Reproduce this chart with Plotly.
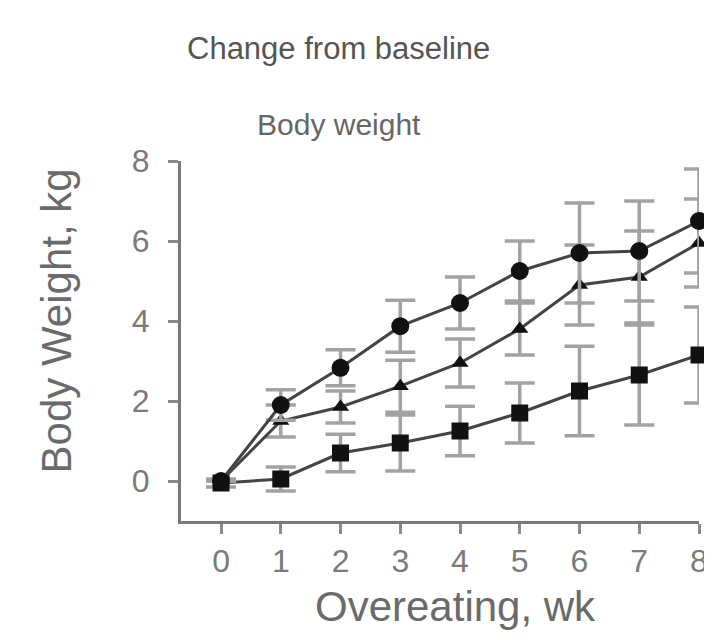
import plotly.graph_objects as go

weeks = [0, 1, 2, 3, 4, 5, 6, 7, 8]
circle_vals = [0.0, 1.9, 2.83, 3.87, 4.45, 5.25, 5.7, 5.75, 6.5]
circle_err = [0.0, 0.38, 0.45, 0.65, 0.65, 0.75, 1.25, 1.25, 1.3]
triangle_vals = [0.0, 1.5, 1.85, 2.37, 2.95, 3.8, 4.9, 5.1, 5.95]
triangle_err = [0.0, 0.4, 0.4, 0.65, 0.6, 0.65, 1.0, 1.15, 1.1]
square_vals = [-0.05, 0.05, 0.7, 0.95, 1.25, 1.7, 2.25, 2.65, 3.15]
square_err = [0.1, 0.3, 0.47, 0.7, 0.62, 0.75, 1.12, 1.25, 1.2]
y_ticks = [0, 2, 4, 6, 8]

FONT = "Liberation Sans, Arial, Helvetica, sans-serif"
ERR_COLOR = "#a2a2a2"
LINE_COLOR = "#444444"

fig = go.Figure()

series = [
    (square_vals, square_err, "square", 17),
    (triangle_vals, triangle_err, "triangle-up", 15),
    (circle_vals, circle_err, "circle", 18),
]
for vals, err, sym, size in series:
    fig.add_trace(go.Scatter(
        x=weeks, y=vals, mode="lines+markers",
        line=dict(color=LINE_COLOR, width=3),
        marker=dict(symbol=sym, size=size, color="#111111"),
        error_y=dict(type="data", array=err, visible=True, color=ERR_COLOR,
                     thickness=3.5, width=15),
        cliponaxis=False, showlegend=False,
    ))

axis_common = dict(
    showline=True, linecolor="#7a7a7a", linewidth=3,
    ticks="outside", ticklen=10, tickwidth=3, tickcolor="#8a8a8a",
    showgrid=False, zeroline=False,
    tickfont=dict(family=FONT, size=32, color="#7a7a7a"),
)

fig.update_layout(
    width=712, height=640,
    margin=dict(l=173, r=15, t=153, b=127),
    paper_bgcolor="white", plot_bgcolor="white",
    xaxis=dict(range=[-0.67, 8], tickvals=weeks, **axis_common),
    yaxis=dict(range=[-1, 8], tickvals=y_ticks, ticklabelstandoff=12, **axis_common),
)

# annotations positioned in pixel space, converted to paper coords
pl, pr, pt, pb = 173, 712 - 15, 153, 640 - 127
pw, ph = pr - pl, pb - pt
texts = [
    ("Change from baseline", 332, 40, 31, "#555555", 0),
    ("Body weight", 333, 117, 30, "#666666", 0),
    ("Overeating, wk", 451, 598, 42, "#6a6a6a", 0),
    ("Body Weight, kg", 47, 313, 42, "#6a6a6a", -90),
]
for text, px, py, size, color, angle in texts:
    fig.add_annotation(
        text=text, xref="paper", yref="paper",
        x=(px - pl) / pw, y=(pb - py) / ph,
        xanchor="center", yanchor="middle", showarrow=False, textangle=angle,
        font=dict(family=FONT, size=size, color=color),
    )

fig.write_html("out.html")
